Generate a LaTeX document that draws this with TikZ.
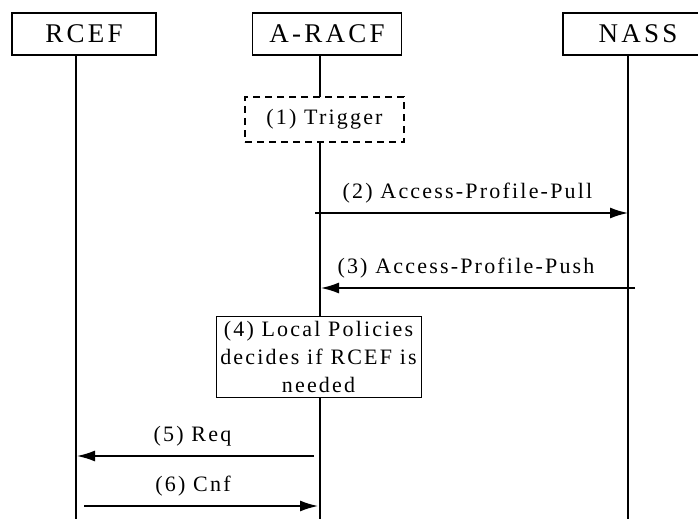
\documentclass[tikz,border=0pt]{standalone}
\usepackage{fontspec}
\setmainfont{Liberation Serif}
\newfontfamily\headfont[LetterSpace=12]{Liberation Serif}
\newfontfamily\msgfont[LetterSpace=10]{Liberation Serif}
\usetikzlibrary{arrows.meta}

\tikzset{
  entity/.style={draw,line width=1.5pt,minimum height=42pt,inner sep=0pt,font=\headfont\fontsize{27}{30}\selectfont},
  trigbox/.style={draw,dashed,line width=1.5pt,dash pattern=on 7pt off 5pt,fill=white,minimum width=159pt,minimum height=45pt,inner sep=0pt,font=\msgfont\fontsize{22}{26}\selectfont},
  notebox/.style={draw,line width=0.6pt,fill=white,minimum width=205pt,minimum height=81pt,inner sep=0pt,align=center,font=\msgfont\fontsize{22}{28}\selectfont},
  lifeline/.style={line width=1.4pt},
  msg/.style={line width=1.5pt,-{Latex[length=18pt,width=11pt]}},
  msglabel/.style={above=9pt,inner sep=0pt,font=\msgfont\fontsize{22}{26}\selectfont}
}

\begin{document}
\begin{tikzpicture}[x=1pt,y=-1pt]
  \useasboundingbox (0,0) rectangle (698,524);
  % entities
  \node[entity,minimum width=144pt] (rcef)  at (84,34)  {RCEF};
  \node[entity,minimum width=149pt] (aracf) at (327,34) {A-RACF};
  \node[entity,minimum width=150pt] (nass)  at (638,34) {NASS};
  % ends of the lifelines
  \coordinate (rcefend)  at (76,519);
  \coordinate (aracfend) at (320,519);
  \coordinate (nassend)  at (628,519);
  \draw[lifeline] (rcefend |- rcef.south) -- (rcefend);
  \draw[lifeline] (nassend |- nass.south) -- (nassend);
  \draw[lifeline] (aracfend |- aracf.south) -- (aracfend);
  % boxes on the A-RACF line
  \node[trigbox] (trigger) at (324.5,119.5) {(1) Trigger};
  \node[notebox] (policies) at (318.5,356.5) {(4) Local Policies\\decides if RCEF is\\needed};
  % messages
  \coordinate (pullstart) at (315,213);
  \coordinate (pushstart) at (635,288);
  \coordinate (reqstart)  at (314,456);
  \coordinate (cnfstart)  at (84,506);
  \draw[msg] (pullstart) -- (nassend |- pullstart)
    node[msglabel,midway,xshift=-4pt] (pull) {(2) Access-Profile-Pull};
  \draw[msg] (pushstart) -- ([xshift=1pt]aracfend |- pushstart)
    node[msglabel,midway,xshift=-12pt] (push) {(3) Access-Profile-Push};
  \draw[msg] (reqstart) -- ([xshift=1pt]rcefend |- reqstart)
    node[msglabel,midway,xshift=-3pt] (req) {(5) Req};
  \draw[msg] (cnfstart) -- ([xshift=-2pt]aracfend |- cnfstart)
    node[msglabel,midway,xshift=-8pt] (cnf) {(6) Cnf};
\end{tikzpicture}
\end{document}
